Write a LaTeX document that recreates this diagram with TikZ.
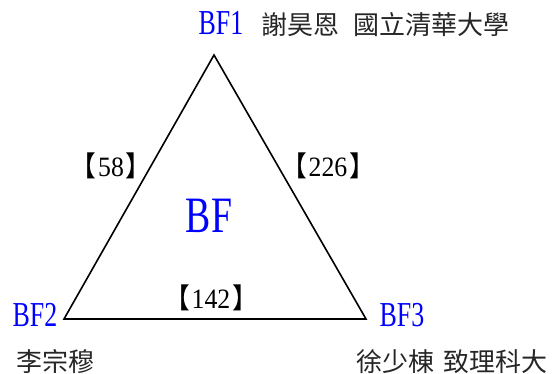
\documentclass[tikz,border=0pt]{standalone}
\usepackage{fontspec}
\setmainfont{Liberation Serif}
\newfontfamily\cjkfont{Noto Sans CJK TC}
\usetikzlibrary{positioning}

\newcommand{\wt}[1]{{\cjkfont【}\hspace{2pt}#1\hspace{2pt}{\cjkfont】}}

\tikzset{
  vlabel/.style={text=blue, font=\fontsize{35}{35}\selectfont, xscale=0.74, inner sep=0pt},
  member/.style={font=\cjkfont\fontsize{26}{26}\selectfont, text=black!85, inner sep=0pt},
  weight/.style={font=\fontsize{28}{28}\selectfont, xscale=0.92, inner sep=0pt}
}

\begin{document}
\begin{tikzpicture}[x=1pt, y=-1pt]
  \useasboundingbox (0,0) rectangle (553,374);

  % vertices
  \coordinate (v1) at (214,55);
  \coordinate (v2) at (64,319);
  \coordinate (v3) at (366,319);
  \draw[line width=1.6pt, line join=miter] (v1)--(v2)--(v3)--cycle;

  % vertex labels
  \node[vlabel] (bf1) at (221,23) {BF1};
  \node[vlabel] (bf2) at (35,315) {BF2};
  \node[vlabel] (bf3) at (402,315) {BF3};
  \node[vlabel, font=\fontsize{51}{51}\selectfont] (bf) at (209,216) {BF};

  % members
  \node[member, anchor=west] (n1) at (261,25) {謝昊恩\hspace{14pt}國立清華大學};
  \node[member, anchor=west] (n2) at (16,362) {李宗穆};
  \node[member, anchor=west] (n3) at (356,362) {徐少棟\hspace{9pt}致理科大};

  % edge weights
  \node[weight] (w12) at (111,166) {\wt{58}};
  \node[weight] (w13) at (328,166) {\wt{226}};
  \node[weight] (w23) at (211,298) {\wt{142}};
\end{tikzpicture}
\end{document}
